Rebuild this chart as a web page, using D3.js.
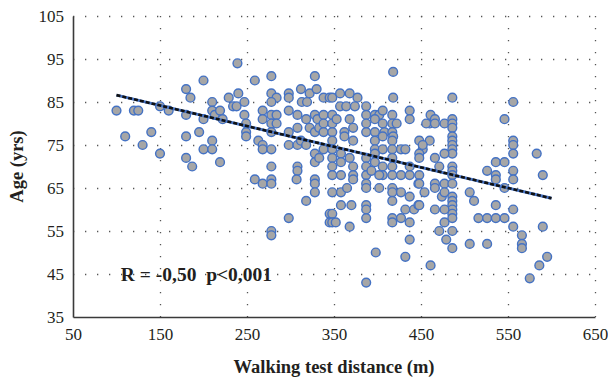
<!DOCTYPE html>
<html>
<head>
<meta charset="utf-8">
<script src="https://cdn.jsdelivr.net/npm/d3@7"></script>
<style>
  body { margin: 0; background: #fff; }
  svg { display: block; }
</style>
</head>
<body>
<div id="chart"></div>
<script>
// tick values
const xTicks = [50, 150, 250, 350, 450, 550, 650];
const yTicks = [35, 45, 55, 65, 75, 85, 95, 105];

// walking distance (m), age (yrs)
const points = [
  [100,83],[110,77],[120,83],[125,83],[130,75],[140,78],[150,84],[150,73],[160,83],[180,88],
  [185,86],[180,82],[180,77],[180,72],[187,70],[200,90],[200,81],[195,78],[200,74],[210,85],
  [210,83],[210,76],[210,74],[213,82],[219,83],[222,81],[219,71],[229,86],
  [234,84],[238,84],[239,94],[240,87],[247,85],[247,82],[249,80],[249,78],[249,77],
  [259,90],[278,91],[328,91],
  [278,87],[284,86],[278,85],[268,83],[278,82],[284,82],[268,81],[278,80],[284,80],[278,78],
  [263,76],[268,75],[268,74],[278,74],[278,70],
  [259,67],[268,66],[278,67],[278,66],[278,55],[278,54],
  [298,87],[298,86],[312,88],[322,87],[330,88],[338,86],[345,86],
  [298,83],[313,85],[319,85],
  [308,82],[318,81],[328,82],[331,81],[322,79],[328,78],[333,79],[308,79],[298,78],
  [298,75],[308,75],[312,76],[318,75],
  [328,73],[328,71],[333,72],
  [308,70],[308,69],[307,67],[328,67],[328,66],[328,64],[318,62],[298,58],
  [345,59],[345,57],[338,82],[338,80],[338,78],[338,74],
  [348,86],[357,87],[368,87],[377,86],
  [357,84],[364,84],[374,84],[387,84],
  [348,82],[387,82],[397,82],[402,82],[406,83],[417,82],[437,83],
  [348,80],[353,81],[368,81],[387,80],[397,81],[406,80],[417,80],[422,80],[437,81],
  [348,78],[362,78],[372,79],[387,78],[397,78],[408,78],[417,78],[418,77],
  [348,76],[362,77],[372,76],[397,76],[406,77],[417,76],[448,76],[460,76],
  [348,74],[397,74],[406,74],[417,74],[427,74],[432,74],[452,74],
  [348,72],[358,73],[368,72],[387,72],[397,73],[417,72],[448,73],
  [348,70],[358,71],[372,70],[387,70],[397,71],[406,70],[417,70],[437,70],
  [348,68],[358,68],[372,68],[387,68],[406,68],[417,68],[427,68],[437,68],[448,68],
  [418,92],[418,86],[460,80],
  [372,67],[387,66],[393,69],[402,68],[447,66],
  [348,64],[358,64],[365,65],[387,65],[402,65],[417,65],[417,64],[427,64],[437,63],[454,64],
  [417,62],[358,61],[370,61],[387,61],[387,60],[387,58],[348,59],[348,57],[352,57],[368,56],
  [417,58],[417,57],[427,58],[437,57],[432,60],[442,60],[447,61],
  [437,53],[398,50],[432,49],[387,43],
  [486,86],[461,82],[456,80],[466,81],[466,80],[477,80],[486,81],[486,80],[486,79],[486,77],
  [486,76],[486,75],[486,74],[486,73],[452,75],[448,72],[466,72],[477,73],[471,70],[486,70],
  [486,69],[486,68],[474,63],
  [448,66],[448,61],[466,66],[466,65],[477,66],[477,64],[486,66],[486,63],[486,62],[486,61],
  [486,60],[486,59],[486,58],[477,57],[471,55],[479,53],[486,55],[486,51],[466,60],[477,60],
  [461,47],
  [526,69],[536,71],[536,68],[546,71],[546,65],[506,64],[511,62],[536,61],[516,58],[526,58],
  [536,58],[546,58],[506,52],[526,52],
  [556,85],[546,81],[556,76],[556,75],[556,73],[583,73],[536,67],[556,69],[556,67],[590,68],
  [556,60],[556,56],[590,56],[566,54],[566,52],[566,51],[595,49],[586,47],[575,44]
];

// fitted line end points
const trend = [[100, 86.6], [600, 62.6]];

const statText = "R = -0,50  p<0,001";

class ScatterPlot {
  constructor(config) {
    this.config = {
      parent: config.parent,
      width: config.width || 608,
      height: config.height || 383,
      margin: config.margin || {top: 16, right: 13, bottom: 66, left: 73}
    };
    this.init();
  }

  init() {
    const c = this.config;
    this.w = c.width - c.margin.left - c.margin.right;
    this.h = c.height - c.margin.top - c.margin.bottom;

    this.svg = d3.select(c.parent)
      .append("svg")
      .attr("width", c.width)
      .attr("height", c.height)
      .style("font-family", "'Liberation Serif', 'DejaVu Serif', serif");

    this.chart = this.svg.append("g")
      .attr("transform", `translate(${c.margin.left}, ${c.margin.top})`);

    this.xscale = d3.scaleLinear().domain([50, 650]).range([0, this.w]);
    this.yscale = d3.scaleLinear().domain([35, 105]).range([this.h, 0]);

    // axis titles
    this.svg.append("text")
      .attr("x", c.margin.left + this.w / 2)
      .attr("y", c.height - 10)
      .attr("text-anchor", "middle")
      .attr("font-size", "18.5px")
      .attr("font-weight", "bold")
      .attr("fill", "#231f20")
      .text("Walking test distance (m)");

    this.svg.append("text")
      .attr("transform", "rotate(-90)")
      .attr("x", -(c.margin.top + this.h / 2))
      .attr("y", 23)
      .attr("text-anchor", "middle")
      .attr("font-size", "18.5px")
      .attr("font-weight", "bold")
      .attr("fill", "#231f20")
      .text("Age (yrs)");
  }

  render() {
    const chart = this.chart;
    const x = this.xscale, y = this.yscale;

    // dotted grid
    const gy = chart.append("g")
      .call(d3.axisLeft(y).tickValues(yTicks.slice(1)).tickSize(-this.w).tickFormat(""));
    const gx = chart.append("g")
      .attr("transform", `translate(0, ${this.h})`)
      .call(d3.axisBottom(x).tickValues(xTicks.slice(1)).tickSize(this.h).tickFormat(""));
    gx.selectAll(".tick line").attr("transform", `translate(0, ${-this.h})`);
    [gy, gx].forEach(g => {
      g.select(".domain").remove();
      g.selectAll(".tick line")
        .attr("stroke", "#555")
        .attr("stroke-width", 1.3)
        .attr("stroke-dasharray", "1.3,10.7");
    });

    // axes
    const xaxis = chart.append("g")
      .attr("transform", `translate(0, ${this.h})`)
      .call(d3.axisBottom(x).tickValues(xTicks).tickSize(0).tickPadding(11));
    const yaxis = chart.append("g")
      .call(d3.axisLeft(y).tickValues(yTicks).tickSize(0).tickPadding(9));
    [xaxis, yaxis].forEach(g => {
      g.select(".domain").attr("stroke", "#3a3a3a").attr("stroke-width", 1.6);
      g.selectAll("text")
        .attr("font-family", "'Liberation Serif', serif")
        .attr("font-size", "17px")
        .attr("fill", "#231f20");
    });

    // points
    chart.append("g")
      .selectAll("circle")
      .data(points)
      .join("circle")
      .attr("cx", d => x(d[0]))
      .attr("cy", d => y(d[1]))
      .attr("r", 4.4)
      .attr("fill", "#a6a6a6")
      .attr("stroke", "#4472c4")
      .attr("stroke-width", 1.4);

    // trend line: blue under black dashes
    const line = d3.line().x(d => x(d[0])).y(d => y(d[1]));
    chart.append("path").datum(trend)
      .attr("d", line)
      .attr("fill", "none")
      .attr("stroke", "#4472c4")
      .attr("stroke-width", 3);
    chart.append("path").datum(trend)
      .attr("d", line)
      .attr("fill", "none")
      .attr("stroke", "#111")
      .attr("stroke-width", 2.6)
      .attr("stroke-dasharray", "4,2");

    chart.append("text")
      .attr("x", x(105))
      .attr("y", y(43.4))
      .attr("font-size", "19.5px")
      .attr("font-weight", "bold")
      .attr("fill", "#231f20")
      .style("white-space", "pre")
      .text(statText);
  }
}

const plot = new ScatterPlot({parent: "#chart"});
plot.render();
</script>
</body>
</html>
